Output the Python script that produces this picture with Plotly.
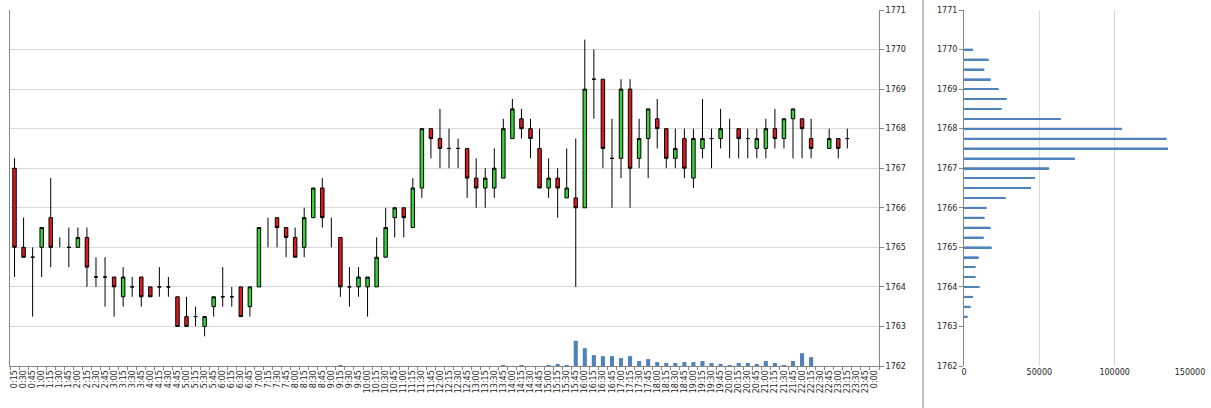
import plotly.graph_objects as go

times = ["0:15","0:30","0:45","1:00","1:15","1:30","1:45","2:00","2:15","2:30","2:45","3:00",
         "3:15","3:30","3:45","4:00","4:15","4:30","4:45","5:00","5:15","5:30","5:45","6:00",
         "6:15","6:30","6:45","7:00","7:15","7:30","7:45","8:00","8:15","8:30","8:45","9:00",
         "9:15","9:30","9:45","10:00","10:15","10:30","10:45","11:00","11:15","11:30","11:45","12:00",
         "12:15","12:30","12:45","13:00","13:15","13:30","13:45","14:00","14:15","14:30","14:45","15:00",
         "15:15","15:30","15:45","16:00","16:15","16:30","16:45","17:00","17:15","17:30","17:45","18:00",
         "18:15","18:30","18:45","19:00","19:15","19:30","19:45","20:00","20:15","20:30","20:45","21:00",
         "21:15","21:30","21:45","22:00","22:15","22:30","22:45","23:00","23:15","23:30","23:45","0:00"]

N = None
open_ = [1767,1765,1764.75,1765,1765.75,N,1765,1765,1765.25,1764.25,1764.25,1764.25,
         1763.75,1764,1764.25,1764,1764,1764,1763.75,1763.25,1763.25,1763,1763.5,1763.75,
         1763.75,1764,1763.5,1764,N,1765.75,1765.5,1765.25,1765,1765.75,1766.5,N,
         1765.25,1764,1764,1764,1764,1764.75,1765.75,1766,1765.5,1766.5,1768,1767.75,
         1767.5,1767.5,1767.5,1766.75,1766.5,1766.5,1766.75,1767.75,1768.25,1768,1767.5,1766.5,
         1766.75,1766.25,1766.25,1766,1769.25,1769.25,1767.25,1767.25,1769,1767.25,1767.75,1768.25,
         1768,1767.25,1767.75,1766.75,1767.5,1767.75,1767.75,N,1768,1767.75,1767.5,1767.5,
         1768,1767.75,1768.25,1768.25,1767.75,N,1767.5,1767.75,1767.75,N,N,N]
high = [1767.25,1765.75,1765,1765.5,1766.75,1765.25,1765.5,1765.5,1765.5,1764.75,1764.75,1764.25,
        1764.5,1764.25,1764.25,1764,1764.5,1764.25,1763.75,1763.75,1763.5,1763.25,1763.75,1764.5,
        1764,1764,1764,1765.5,1765.75,1765.75,1765.5,1765.5,1766,1766.5,1766.75,1765.75,
        1765.25,1764.5,1764.5,1764.25,1765.25,1766,1766,1766,1766.75,1768,1768,1768.5,
        1768,1767.75,1767.5,1767.25,1767,1767.5,1768.25,1768.75,1768.5,1768.25,1768,1767.25,
        1767,1767.5,1767.75,1770.25,1770,1769.25,1768.25,1769.25,1769.25,1768.25,1768.5,1768.75,
        1768,1768,1768,1768,1768.75,1768,1768.5,1768.25,1768,1768,1768,1768.25,
        1768.5,1768.25,1768.5,1768.25,1768.25,N,1768,1767.75,1768,N,N,N]
low = [1764.25,1764.75,1763.25,1764.25,1764.5,1765,1764.5,1765,1764,1764,1763.5,1763.25,
       1763.5,1763.75,1763.5,1763.75,1763.75,1763.75,1763,1763,1763,1762.75,1763.25,1763.5,
       1763.5,1763.25,1763.25,1764,1765,1765,1764.75,1764.75,1764.75,1765.75,1765.5,1765,
       1763.75,1763.5,1763.75,1763.25,1764,1764.75,1765.25,1765.25,1765.5,1766.25,1767.25,1767,
       1767,1767,1766.25,1766,1766,1766.25,1766.75,1767.75,1767.75,1767.25,1766.5,1766.25,
       1765.75,1766.25,1764,1766,1768.25,1767,1766,1766.75,1766,1767,1766.75,1767.5,
       1767,1767,1766.75,1766.5,1767.25,1767,1767.5,1767.25,1767.25,1767.25,1767.25,1767.25,
       1767.5,1767.5,1767.25,1767.25,1767.25,N,1767.5,1767.25,1767.5,N,N,N]
close = [1765,1764.75,1764.75,1765.5,1765,N,1765,1765.25,1764.5,1764.25,1764.25,1764,
         1764.25,1764,1763.75,1763.75,1764,1764,1763,1763,1763.25,1763.25,1763.75,1763.75,
         1763.75,1763.25,1764,1765.5,N,1765.5,1765.25,1764.75,1765.75,1766.5,1765.75,N,
         1764,1764,1764.25,1764.25,1764.75,1765.5,1766,1765.75,1766.5,1768,1767.75,1767.5,
         1767.5,1767.5,1766.75,1766.5,1766.75,1767,1768,1768.5,1768,1767.75,1766.5,1766.75,
         1766.5,1766.5,1766,1769,1769.25,1767.5,1767.25,1769,1767,1767.75,1768.5,1768,
         1767.25,1767.5,1767,1767.75,1767.75,1767.75,1768,N,1767.75,1767.75,1767.75,1768,
         1767.75,1768.25,1768.5,1768,1767.5,N,1767.75,1767.5,1767.75,N,N,N]

volume = [N]*36 + [4000] + [N]*17 + [3000, N, 3000, N, N, 5000, 7000, 4000,
          127000, 90000, 55000, 50000, 50000, 40000, 50000, 25000, 35000, 20000, 15000, 15000,
          20000, 20000, 25000, 15000, 10000, 5000, 15000, 15000, 10000, 25000, 15000, 5000,
          25000, 65000, 45000] + [N]*7

profile_price = [1770, 1769.75, 1769.5, 1769.25, 1769, 1768.75, 1768.5, 1768.25, 1768, 1767.75,
                 1767.5, 1767.25, 1767, 1766.75, 1766.5, 1766.25, 1766, 1765.75, 1765.5, 1765.25,
                 1765, 1764.75, 1764.5, 1764.25, 1764, 1763.75, 1763.5, 1763.25]
profile_vol = [6000, 16400, 13500, 17700, 23000, 28400, 25000, 64300, 104800, 134500,
               135400, 73600, 56500, 47200, 44500, 27700, 15100, 13700, 17700, 13100,
               18400, 9750, 7750, 7750, 10400, 6000, 4400, 2400]

GREEN = "#3ad23a"
RED = "#dc1a1f"
BLUE = "#4f81bd"
GRID = "#d9d9d9"
AXIS = "#868686"
FONT = dict(family="DejaVu Sans", size=8, color="#262626")

c_idx = [i for i in range(len(times)) if open_[i] is not None]
hl_idx = [i for i in range(len(times)) if open_[i] is None and high[i] is not None]

fig = go.Figure()

fig.add_trace(go.Bar(x=times, y=volume, xaxis="x", yaxis="y2", marker=dict(color=BLUE, line=dict(width=0)),
                     width=0.45, hoverinfo="skip"))

fig.add_trace(go.Candlestick(
    x=[times[i] for i in c_idx],
    open=[open_[i] for i in c_idx], high=[high[i] for i in c_idx],
    low=[low[i] for i in c_idx], close=[close[i] for i in c_idx],
    xaxis="x", yaxis="y",
    increasing=dict(fillcolor=GREEN, line=dict(color="black", width=1)),
    decreasing=dict(fillcolor=RED, line=dict(color="black", width=1)),
    whiskerwidth=0,
))

hx, hy = [], []
for i in hl_idx:
    hx += [times[i], times[i], None]
    hy += [high[i], low[i], None]
fig.add_trace(go.Scatter(x=hx, y=hy, mode="lines", line=dict(color="black", width=1),
                         xaxis="x", yaxis="y", hoverinfo="skip"))

fig.add_trace(go.Bar(x=profile_vol, y=profile_price, orientation="h", xaxis="x2", yaxis="y3",
                     width=0.045, marker=dict(color=BLUE, line=dict(width=0))))

W, H = 1211, 408
fig.update_layout(
    autosize=True, margin=dict(l=0, r=0, t=0, b=0, pad=0, autoexpand=False),
    paper_bgcolor="white", plot_bgcolor="white", showlegend=False,
    font=FONT, boxgap=0.45,
    xaxis=dict(domain=[10/W, 879/W], type="category", categoryorder="array",
               categoryarray=times, range=[-0.5, len(times)-0.5], tickangle=-90,
               tickmode="linear", dtick=1, tick0=0, automargin=False,
               ticks="outside", tickson="boundaries", ticklen=3, tickcolor=AXIS,
               showline=True, linecolor=AXIS, showgrid=False, rangeslider=dict(visible=False),
               tickfont=FONT, anchor="y", fixedrange=True),
    yaxis=dict(domain=[(H-366)/H, (H-10)/H], range=[1762, 1771], dtick=1, side="right",
               showgrid=True, gridcolor=GRID, showline=True, mirror=True, linecolor=AXIS,
               ticks="outside", ticklen=4, tickcolor=AXIS, zeroline=False, tickfont=FONT,
               anchor="x", tickformat="d", automargin=False),
    yaxis2=dict(overlaying="y", range=[0, 1800000], visible=False, anchor="x", automargin=False),
    xaxis2=dict(domain=[964/W, 1190/W], range=[0, 150000], dtick=50000, showgrid=True,
                gridcolor=GRID, showline=False, zeroline=False, tickformat="d", anchor="y3",
                tickfont=FONT, ticks="", automargin=False),
    yaxis3=dict(domain=[(H-366)/H, (H-10)/H], range=[1762, 1771], dtick=1, anchor="x2",
                showline=True, linecolor=AXIS, ticks="outside", ticklen=4, tickcolor=AXIS,
                showgrid=False, zeroline=False, tickfont=FONT, tickformat="d", automargin=False),
    shapes=[dict(type="line", xref="paper", yref="paper", x0=923/W, x1=923/W, y0=0, y1=1,
                 line=dict(color="#808080", width=1))],
)

fig.write_html("out.html",
               default_width="100vw", default_height="100vh",
               config={"displayModeBar": False, "responsive": True},
               post_script="document.body.style.margin='0';document.body.style.overflow='hidden';")
